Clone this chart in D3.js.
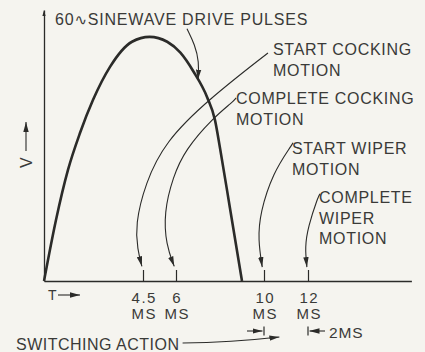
<!DOCTYPE html>
<html>
<head>
<meta charset="utf-8">
<script src="https://cdn.jsdelivr.net/npm/d3@7"></script>
<style>
  html, body { margin: 0; padding: 0; background: #f5f4ef; }
  svg { display: block; }
  text { font-family: "Liberation Sans", Arial, sans-serif; fill: #3a3a38; }
</style>
</head>
<body>
<svg id="chart" width="425" height="352"></svg>
<script>
// Drive pulse: time in milliseconds, voltage relative to peak
const pulseMs = [0, 0.545, 1.09, 1.64, 2.23, 3.0, 4.0, 4.8, 5.6, 6.2, 6.8, 7.41, 7.77, 8.0, 8.45, 9.0];
const pulseV  = [0, 0.25, 0.455, 0.607, 0.742, 0.877, 0.98, 1.0, 0.98, 0.935, 0.857, 0.754, 0.66, 0.545, 0.30, 0];

// Switching events along the time axis
const eventMs     = [4.5, 6, 10, 12];
const eventLabels = ["4.5", "6", "10", "12"];
const eventUnit   = "MS";

// Callout text
const pulseTitle = ["60", "\u223F", "SINEWAVE DRIVE PULSES"];
const calloutText = [
  ["START COCKING", "MOTION"],
  ["COMPLETE COCKING", "MOTION"],
  ["START WIPER", "MOTION"],
  ["COMPLETE", "WIPER", "MOTION"]
];
// Leader curves from each callout to its event, in (ms, V)
const calloutPaths = [
  [[10.18, 0.934], [7.45, 0.742], [5.5, 0.57], [4.6, 0.40], [4.15, 0.23], [4.25, 0.13], [4.45, 0.06]],
  [[8.73, 0.75], [8.59, 0.734], [7.68, 0.668], [6.41, 0.537], [5.86, 0.426], [5.45, 0.28], [5.55, 0.148], [5.92, 0.06]],
  [[11.32, 0.566], [11.23, 0.553], [10.41, 0.443], [9.82, 0.279], [9.73, 0.168], [9.92, 0.057]],
  [[12.55, 0.357], [12.45, 0.344], [12.0, 0.221], [11.86, 0.139], [11.95, 0.057]]
];
const titlePath = [[6.5, 1.033], [6.86, 0.967], [7.05, 0.898], [7.0, 0.825]];
const spanLabel = "2MS";
const switchLabel = "SWITCHING ACTION";

const svg = d3.select("#chart");
const ink = "#2b2b29";

const x = d3.scaleLinear().domain([0, 16.7]).range([44, 411.4]);
const y = d3.scaleLinear().domain([0, 1.11]).range([281, 10]);

// arrowhead marker
const defs = svg.append("defs");
defs.append("marker")
  .attr("id", "head")
  .attr("viewBox", "0 0 10 6")
  .attr("refX", 10).attr("refY", 3)
  .attr("markerWidth", 10).attr("markerHeight", 6)
  .attr("markerUnits", "userSpaceOnUse")
  .attr("orient", "auto")
  .append("path").attr("d", "M0,0.3 L10,3 L0,5.7 Z").attr("fill", ink);

// axes
const xAxis = d3.axisBottom(x).tickValues(eventMs).tickSizeInner(-11).tickSizeOuter(0).tickPadding(10)
  .tickFormat((d, i) => eventLabels[i]);
const gx = svg.append("g").attr("transform", `translate(0,${y(0)})`).call(xAxis);
gx.select(".domain").attr("stroke", ink).attr("stroke-width", 1.4);
gx.selectAll(".tick line").attr("stroke", ink).attr("stroke-width", 1.2);
gx.selectAll(".tick text").each(function () {
  const t = d3.select(this);
  const label = t.text();
  t.text(null).attr("dy", null).attr("y", 22)
    .attr("font-size", 15).attr("letter-spacing", 1.5).attr("fill", "#3a3a38");
  t.append("tspan").attr("x", 0.75).attr("y", 22).text(label);
  t.append("tspan").attr("x", 0.75).attr("y", 37.5).text(eventUnit);
});

const yAxis = d3.axisLeft(y).tickValues([]).tickSizeOuter(0);
const gy = svg.append("g").attr("transform", `translate(${x(0)},0)`).call(yAxis);
gy.select(".domain").attr("stroke", ink).attr("stroke-width", 1.3);
// small arrow tip on the V axis
svg.append("path")
  .attr("d", `M${x(0) - 1.6},${y(1.11) + 6} L${x(0)},${y(1.11)} L${x(0) + 1.6},${y(1.11) + 6} Z`)
  .attr("fill", ink);

// drive pulse
const line = d3.line().x(d => x(d[0])).y(d => y(d[1])).curve(d3.curveMonotoneX);
svg.append("path")
  .datum(pulseMs.map((m, i) => [m, pulseV[i]]))
  .attr("d", line)
  .attr("fill", "none").attr("stroke", ink).attr("stroke-width", 2.6).attr("stroke-linejoin", "round");

// leader curves
const leader = d3.line().x(d => x(d[0])).y(d => y(d[1])).curve(d3.curveBasis);
svg.selectAll("path.leader")
  .data(calloutPaths.concat([titlePath]))
  .join("path").attr("class", "leader")
  .attr("d", leader)
  .attr("fill", "none").attr("stroke", ink).attr("stroke-width", 1.1)
  .attr("marker-end", "url(#head)");

// title
const title = svg.append("text").attr("x", x(0.5)).attr("y", 25)
  .attr("font-size", 16).attr("letter-spacing", 0.8);
title.append("tspan").text(pulseTitle[0]);
title.append("tspan").attr("font-family", "DejaVu Sans").attr("font-size", 15).text(pulseTitle[1]);
title.append("tspan").text(pulseTitle[2]);

// callouts
const calloutAnchor = [[273, 55], [236, 104], [292, 154], [319, 203]];
calloutText.forEach((lines, i) => {
  const t = svg.append("text").attr("font-size", 16).attr("letter-spacing", 0.7);
  lines.forEach((s, j) => {
    t.append("tspan").attr("x", calloutAnchor[i][0]).attr("y", calloutAnchor[i][1] + j * 20.5).text(s);
  });
});

// T arrow
svg.append("text").attr("x", 48).attr("y", 300).attr("font-size", 14).text("T");
svg.append("line").attr("x1", 58).attr("x2", 80).attr("y1", 295).attr("y2", 295)
  .attr("stroke", ink).attr("stroke-width", 1.1).attr("marker-end", "url(#head)");

// V arrow
svg.append("text").attr("transform", "translate(32,168) rotate(-90)").attr("font-size", 16).text("V");
svg.append("line").attr("x1", 26).attr("x2", 26).attr("y1", 151).attr("y2", 122)
  .attr("stroke", ink).attr("stroke-width", 1.1).attr("marker-end", "url(#head)");

// 2 ms span marker between 10 and 12 ms
const spanY = 331;
[[x(10), -1], [x(12), 1]].forEach(([bx, dir]) => {
  svg.append("line").attr("x1", bx).attr("x2", bx).attr("y1", spanY - 4.5).attr("y2", spanY + 4.5)
    .attr("stroke", ink).attr("stroke-width", 1.2);
  svg.append("line").attr("x1", bx + dir * 17).attr("x2", bx + dir * 1.5).attr("y1", spanY).attr("y2", spanY)
    .attr("stroke", ink).attr("stroke-width", 1.1).attr("marker-end", "url(#head)");
});
svg.append("text").attr("x", x(12) + 21).attr("y", 338).attr("font-size", 15.5).attr("letter-spacing", 0.8).text(spanLabel);

// switching action
svg.append("text").attr("x", 16).attr("y", 350).attr("font-size", 16).attr("letter-spacing", 0.5).text(switchLabel);
svg.append("path")
  .attr("d", `M${x(6.3)},343 Q${x(8.5)},342.5 ${x(10.7)},337`)
  .attr("fill", "none").attr("stroke", ink).attr("stroke-width", 1.1).attr("marker-end", "url(#head)");
</script>
</body>
</html>
